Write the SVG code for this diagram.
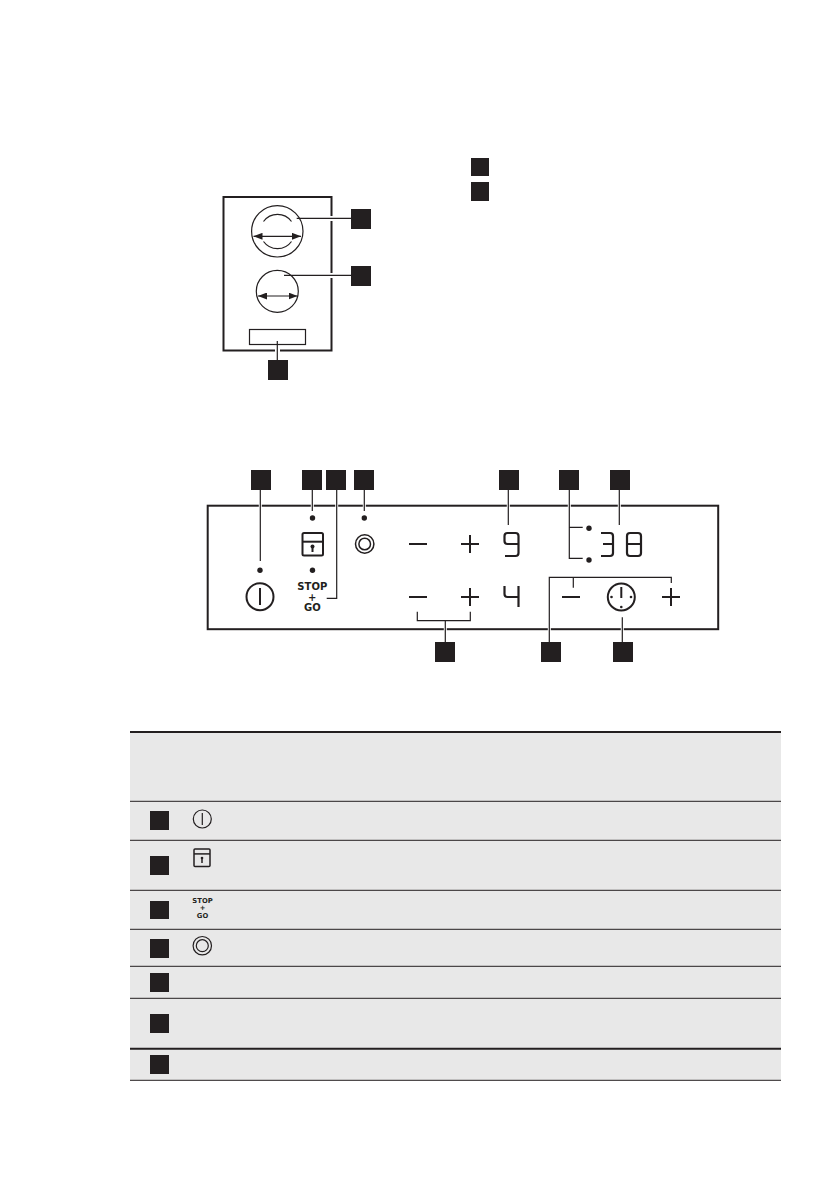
<svg xmlns="http://www.w3.org/2000/svg" width="839" height="1191" viewBox="0 0 839 1191">
<style>
.k{fill:#231f20}
.l{fill:none;stroke:#231f20;stroke-width:1.2}
.f{fill:none;stroke:#231f20;stroke-width:2}
.h{fill:none;stroke:#fff;stroke-width:3}
.i{fill:none;stroke:#231f20;stroke-width:2}
.m{fill:none;stroke:#231f20;stroke-width:2}
.d{fill:none;stroke:#231f20;stroke-width:2.2;stroke-linejoin:round;stroke-linecap:butt}
.t{font-family:"DejaVu Sans",sans-serif;font-weight:bold;fill:#231f20;text-anchor:middle}
.r{fill:none;stroke:#231f20;stroke-width:1.2}
.s{fill:none;stroke:#231f20;stroke-width:1.5}
</style>
<defs>
<marker id="a" markerUnits="userSpaceOnUse" markerWidth="9" markerHeight="7" refX="9" refY="3.5" orient="auto-start-reverse"><path d="M0 0L9 3.5L0 7Z" fill="#231f20"/></marker>
<g id="plus"><path class="m" d="M-9 0H9M0-9V9"/></g>
<g id="minus"><path class="m" d="M-9 0H9"/></g>
</defs>
<rect width="839" height="1191" fill="#fff"/>

<g id="hob">
<rect class="f" x="223.5" y="197" width="108" height="153.5"/>
<circle class="l" cx="277.3" cy="231.3" r="25.7"/>
<path class="l" d="M263.5 221.5A17.3 17.3 0 0 1 291.5 221.5M263.5 241.5A17.3 17.3 0 0 0 291.5 241.5"/>
<path class="l" d="M253.5 236.3H301" marker-start="url(#a)" marker-end="url(#a)"/>
<circle class="l" cx="277.3" cy="291.3" r="21"/>
<path class="l" d="M258 296H297.5" marker-start="url(#a)" marker-end="url(#a)"/>
<rect class="l" x="249.5" y="329.5" width="56" height="15"/>
</g>

<g id="panel">
<rect class="f" x="207.7" y="505.7" width="510.5" height="123.5"/>
</g>

<g id="connectors">
<path class="h" d="M331.5 216V221M331.5 273V278M275 350.5H280"/>
<path class="l" d="M296.7 218.3H351M284 275.3H351M277.3 341V360"/>
<path class="h" d="M260.3 504V508M312.3 504V508M336.7 504V508M364.3 504V508M508.3 504V508M569.3 504V508M619.3 504V508M445.3 627V631M549.3 627V631M622.3 627V631"/>
<path class="l" d="M260.3 490V561M312.3 490V511M336.7 490V598.3H326.7M364.3 490V511M508.3 490V525M569.3 490V558.3H582.7M569.3 527.3H582.7M619.3 490V525M417.3 611.7V620.7H470.3V611.7M445.3 620.7V642M549.3 642V577.3H671.3V583M573.3 577.3V587.7M622.3 617.3V642"/>
</g>

<g id="hob-labels">
<rect class="k" x="471" y="158" width="18" height="18"/>
<rect class="k" x="471" y="182" width="18" height="19"/>
<rect class="k" x="351" y="209" width="20" height="20"/>
<rect class="k" x="351" y="266" width="20" height="20"/>
<rect class="k" x="268" y="360" width="20" height="20"/>
</g>

<g id="panel-labels">
<rect class="k" x="251" y="470" width="20" height="20"/>
<rect class="k" x="302" y="470" width="20" height="20"/>
<rect class="k" x="326" y="470" width="20" height="20"/>
<rect class="k" x="354" y="470" width="20" height="20"/>
<rect class="k" x="499" y="470" width="20" height="20"/>
<rect class="k" x="559" y="470" width="20" height="20"/>
<rect class="k" x="610" y="470" width="20" height="20"/>
<rect class="k" x="435" y="642" width="20" height="20"/>
<rect class="k" x="541" y="642" width="20" height="20"/>
<rect class="k" x="613" y="642" width="20" height="20"/>
</g>

<g id="power">
<circle class="k" cx="260" cy="570.3" r="2.7"/>
<circle class="i" cx="260" cy="596.7" r="13.5"/>
<path class="i" d="M260 588V605"/>
</g>
<g id="lock">
<circle class="k" cx="312.5" cy="518" r="2.7"/>
<rect class="i" x="302.5" y="533" width="20.5" height="22.5" rx="1.5"/>
<path class="i" d="M302.5 541.7H323"/>
<circle class="k" cx="312.5" cy="546.5" r="2"/>
<path class="i" d="M312.5 546.5V552"/>
<circle class="k" cx="312.5" cy="570.3" r="2.7"/>
</g>
<g id="stopgo">
<text class="t" x="312.3" y="590" font-size="10">STOP</text>
<text class="t" x="312.3" y="600.5" font-size="10">+</text>
<text class="t" x="312.3" y="610.5" font-size="10">GO</text>
</g>
<g id="bridge">
<circle class="k" cx="364.3" cy="518" r="2.7"/>
<circle class="s" cx="364.7" cy="544" r="9.2"/>
<circle class="s" cx="364.7" cy="544" r="5.8"/>
</g>
<g id="slider-a">
<use href="#minus" x="418" y="544"/>
<use href="#plus" x="470" y="544"/>
</g>
<g id="slider-b">
<use href="#minus" x="418" y="597"/>
<use href="#plus" x="470" y="597"/>
</g>
<g id="display-9">
<path class="d" d="M518.5 544H507.5a3 3 0 0 1-3-3V536a3 3 0 0 1 3-3H515.5a3 3 0 0 1 3 3V553a3 3 0 0 1-3 3H505"/>
</g>
<g id="display-4">
<path class="d" d="M504.5 586V594a3 3 0 0 0 3 3H518.5M518.5 586V607"/>
</g>
<g id="dots">
<circle class="k" cx="589" cy="528.3" r="2.7"/>
<circle class="k" cx="589" cy="560" r="2.7"/>
</g>
<g id="display-38">
<path class="d" d="M601 533H610a3 3 0 0 1 3 3V553a3 3 0 0 1-3 3H601M603 544H613"/>
<path class="d" d="M630 533H638a3 3 0 0 1 3 3V553a3 3 0 0 1-3 3H630a3 3 0 0 1-3-3V536a3 3 0 0 1 3-3ZM627 544H641"/>
</g>
<g id="timer">
<use href="#minus" x="571" y="597"/>
<circle class="i" cx="621.3" cy="597" r="13.5"/>
<path class="i" d="M621.3 587V598"/>
<circle class="k" cx="611.5" cy="597" r="1.3"/>
<circle class="k" cx="631" cy="597" r="1.3"/>
<circle class="k" cx="621.3" cy="607" r="1.3"/>
<use href="#plus" x="671" y="597"/>
</g>

<g id="table">
<rect x="130" y="732" width="651" height="348" fill="#e8e8e8"/>
<path d="M130 732H781" stroke="#231f20" stroke-width="2"/>
<path d="M130 801.3H781M130 840.3H781M130 890.3H781M130 929.3H781M130 966.3H781M130 998.3H781M130 1080.3H781" stroke="#231f20" stroke-width="1"/>
<path d="M130 1048.7H781" stroke="#231f20" stroke-width="2"/>
</g>
<g id="row1">
<rect class="k" x="150" y="811" width="19" height="19"/>
<circle class="r" cx="202.3" cy="819" r="9"/>
<path class="r" d="M202.3 813V825"/>
</g>
<g id="row2">
<rect class="k" x="150" y="856" width="19" height="19"/>
<rect class="s" x="194" y="849" width="16" height="17.5" rx="1"/>
<path class="s" d="M194 853.9H210"/>
<path class="s" d="M202 857.5V863"/>
<circle class="k" cx="202" cy="858" r="1.3"/>
</g>
<g id="row3">
<rect class="k" x="150" y="901" width="19" height="18"/>
<text class="t" x="202.5" y="903" font-size="6.8">STOP</text>
<text class="t" x="202.5" y="910.2" font-size="6.8">+</text>
<text class="t" x="202.5" y="917.5" font-size="6.8">GO</text>
</g>
<g id="row4">
<rect class="k" x="150" y="939" width="19" height="19"/>
<circle class="r" cx="202.3" cy="945.7" r="9.2"/>
<circle class="r" cx="202.3" cy="945.7" r="6"/>
</g>
<g id="row5"><rect class="k" x="150" y="973" width="19" height="19"/></g>
<g id="row6"><rect class="k" x="150" y="1014" width="19" height="19"/></g>
<g id="row7"><rect class="k" x="150" y="1055" width="19" height="19"/></g>
</svg>
